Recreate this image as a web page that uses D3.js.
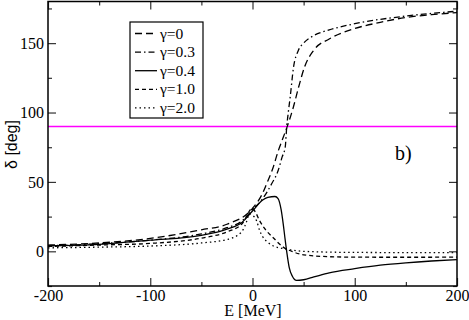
<!DOCTYPE html>
<meta charset="utf-8">
<script src="https://d3js.org/d3.v7.min.js"></script>
<style>
  body { margin: 0; background: #fff; }
  text { fill: #000; }
</style>
<div id="my_dataviz"></div>
<script>

// energies (MeV) and phase shifts (deg)
var e_g0   = [-200,-150,-100,-50,-25,0,10,14,20,25,30,34,40,45,51,60,75,100,125,150,175,200];
var d_g0   = [4.5,6,9.3,15.5,19.5,31,42,49,60,72,82,90,104,118,133,145,153,160.5,165,168.5,170.5,172];

var e_g03  = [-200,-150,-100,-50,-25,-10,0,10,19,25,29,32,33.5,35,37,40,45,50,60,75,100,150,200];
var d_g03  = [4,5.5,8,12.5,17,22,30,38,49,58,68,75,90,100,112,132,145,150,155.5,159.5,164,169.5,173];

var e_g04  = [-200,-150,-100,-50,-25,-10,0,10,15,22,25,28,30,32,34,36,39,43,50,60,75,100,125,150,175,200];
var d_g04  = [4,5,8,11.5,16,21,29,37,38.8,39.5,38,30,20,8,-3,-12,-18,-21,-20.5,-18.5,-15.5,-12.5,-10,-8.3,-7,-6];

var e_g10  = [-200,-150,-100,-50,-25,-10,0,3,7,14,20,30,40,50,80,100,150,200];
var d_g10  = [3.5,4.5,5.7,9.5,14,20,31,28,22,14.5,10,3,-0.5,-2.5,-4,-4.2,-4.3,-4.2];

var e_g20  = [-200,-150,-100,-50,-25,-19,-9,-6,-3,0,4,7,10,15,20,30,45,60,100,200];
var d_g20  = [2.5,3,3.8,6,8.5,9.8,15.8,21,27,26,22,15,10.5,6.5,4,2,0.3,-0.3,-0.8,-1];

var legendLabels = ["γ=0", "γ=0.3", "γ=0.4", "γ=1.0", "γ=2.0"];
var xTicks = [-200, -100, 0, 100, 200];
var yTicks = [0, 50, 100, 150];
var resonance = 90;

var series = [
  {e: e_g0,  d: d_g0,  dash: "7,4"},
  {e: e_g03, d: d_g03, dash: "6,3,1.5,3"},
  {e: e_g04, d: d_g04, dash: null},
  {e: e_g10, d: d_g10, dash: "4,3"},
  {e: e_g20, d: d_g20, dash: "1.5,3"}
];

var serif = "'Liberation Serif', 'Times New Roman', 'DejaVu Serif', serif";
var sans = "'Liberation Sans', Arial, sans-serif";

var margin = {top: 1.5, left: 48},
    width = 457 - margin.left,
    height = 286 - margin.top;

var svg = d3.select("#my_dataviz")
  .append("svg")
    .attr("width", 469)
    .attr("height", 320)
  .append("g")
    .attr("transform", "translate(" + margin.left + "," + margin.top + ")");

var x = d3.scaleLinear().domain([-200, 200]).range([0, width]);
var y = d3.scaleLinear().domain([-25, 180]).range([height, 0]);

svg.append("clipPath").attr("id", "clip")
  .append("rect").attr("width", width).attr("height", height);

// magenta line at 90 deg
svg.append("line")
  .attr("x1", 0).attr("x2", width)
  .attr("y1", y(resonance)).attr("y2", y(resonance))
  .attr("stroke", "#ff00ff").attr("stroke-width", 1.5);

var line = d3.line()
  .x(function(p){ return x(p[0]); })
  .y(function(p){ return y(p[1]); })
  .curve(d3.curveMonotoneX);

series.forEach(function(s){
  svg.append("path")
    .attr("clip-path", "url(#clip)")
    .attr("d", line(d3.zip(s.e, s.d)))
    .attr("fill", "none")
    .attr("stroke", "#000")
    .attr("stroke-width", 1.3)
    .attr("stroke-dasharray", s.dash);
});

// ticks on all four sides, pointing inward
var xMinor = d3.range(-150, 200, 100);
var yMinor = [-25, 25, 75, 125, 175];
var plain = function(d){ return String(d); };

var gx = svg.append("g").attr("transform", "translate(0," + height + ")")
  .call(d3.axisBottom(x).tickValues(xTicks).tickSize(-8).tickPadding(4).tickFormat(plain));
svg.append("g").call(d3.axisTop(x).tickValues(xTicks).tickSize(-8).tickFormat(""));
var gy = svg.append("g")
  .call(d3.axisLeft(y).tickValues(yTicks).tickSize(-8).tickPadding(4).tickFormat(plain));
svg.append("g").attr("transform", "translate(" + width + ",0)")
  .call(d3.axisRight(y).tickValues(yTicks).tickSize(-8).tickFormat(""));

svg.append("g").attr("transform", "translate(0," + height + ")")
  .call(d3.axisBottom(x).tickValues(xMinor).tickSize(-4).tickFormat(""));
svg.append("g").call(d3.axisTop(x).tickValues(xMinor).tickSize(-4).tickFormat(""));
svg.append("g").call(d3.axisLeft(y).tickValues(yMinor).tickSize(-4).tickFormat(""));
svg.append("g").attr("transform", "translate(" + width + ",0)")
  .call(d3.axisRight(y).tickValues(yMinor).tickSize(-4).tickFormat(""));

svg.selectAll(".domain").remove();
svg.selectAll(".tick line").attr("stroke", "#333").attr("stroke-width", 1.2);
svg.selectAll("g").attr("font-family", null).attr("font-size", null);
svg.selectAll(".tick text")
  .attr("font-family", serif)
  .attr("font-size", 16);

// frame
svg.append("rect")
  .attr("width", width).attr("height", height)
  .attr("fill", "none").attr("stroke", "#000").attr("stroke-width", 1.5);

// axis titles
svg.append("text")
  .attr("x", x(0) + 0.5).attr("y", height + 29.5)
  .attr("text-anchor", "middle")
  .attr("font-family", serif)
  .attr("font-size", 16)
  .text("E [MeV]");

svg.append("text")
  .attr("transform", "translate(" + (-31) + "," + 143 + ") rotate(-90)")
  .attr("text-anchor", "middle")
  .attr("font-family", sans)
  .attr("font-size", 16)
  .text("δ [deg]");

svg.append("text")
  .attr("x", 347).attr("y", 158)
  .attr("font-family", serif)
  .attr("font-size", 20)
  .text("b)");

// legend
var legend = svg.append("g").attr("transform", "translate(82,20.5)");
legend.append("rect")
  .attr("width", 73).attr("height", 96)
  .attr("fill", "#fff").attr("stroke", "#000").attr("stroke-width", 1.2);

legendLabels.forEach(function(label, i){
  var yy = 11.5 + i * 18.6;
  legend.append("line")
    .attr("x1", 5).attr("x2", 27)
    .attr("y1", yy).attr("y2", yy)
    .attr("stroke", "#000").attr("stroke-width", 1.3)
    .attr("stroke-dasharray", series[i].dash);
  legend.append("text")
    .attr("x", 30).attr("y", yy + 5)
    .attr("font-family", serif)
    .attr("font-size", 15.5)
    .text(label);
});

</script>
